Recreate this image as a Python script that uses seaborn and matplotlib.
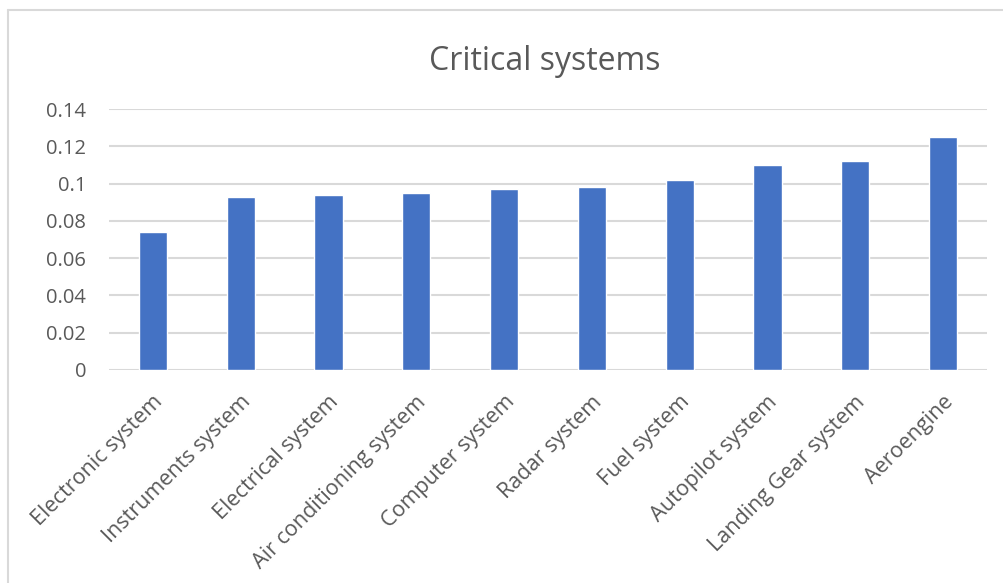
import numpy as np
import pandas as pd
import seaborn as sns
import matplotlib.pyplot as plt
import matplotlib.transforms as mtransforms
from matplotlib.lines import Line2D

# Datos
systems = ['Electronic system', 'Instruments system', 'Electrical system',
           'Air conditioning system', 'Computer system', 'Radar system',
           'Fuel system', 'Autopilot system', 'Landing Gear system', 'Aeroengine']
weights = [0.074, 0.093, 0.094, 0.095, 0.097, 0.098, 0.102, 0.110, 0.112, 0.125]
y_ticks = [0, 0.02, 0.04, 0.06, 0.08, 0.1, 0.12, 0.14]
y_labels = ['0', '0.02', '0.04', '0.06', '0.08', '0.1', '0.12', '0.14']

sns.set_style('white')
plt.rcParams['font.family'] = ['Open Sans', 'DejaVu Sans']

text_color = '#595959'
grid_color = '#d9d9d9'

df = pd.DataFrame({'system': systems, 'weight': weights})

fig = plt.figure(figsize=(10.04, 5.83), dpi=100)
ax = fig.add_axes([0.1086, 0.3654, 0.8745, 0.4476])

sns.barplot(data=df, x='system', y='weight', color='#4472C4', width=0.32,
            saturation=1, ax=ax, zorder=3)

ax.set_ylim(0, 0.14)
ax.set_xlim(-0.5, len(systems) - 0.5)
ax.set_yticks(y_ticks)
ax.set_yticklabels(y_labels)
ax.yaxis.grid(True, color=grid_color, linewidth=1.5, zorder=0)
ax.set_axisbelow(True)
for s in ax.spines.values():
    s.set_visible(False)
ax.tick_params(axis='both', length=0, colors=text_color)
ax.tick_params(axis='y', pad=16.5, labelsize=14.5)
ax.tick_params(axis='x', pad=0, labelsize=15.5)
ax.set_xlabel('')
ax.set_ylabel('')

# etiquetas del eje x giradas 45 grados, como en Excel
offset = mtransforms.ScaledTranslation(7 / 100, -29 / 100, fig.dpi_scale_trans)
for lbl in ax.get_xticklabels():
    lbl.set_rotation(45)
    lbl.set_ha('right')
    lbl.set_va('center')
    lbl.set_rotation_mode('anchor')
    lbl.set_transform(lbl.get_transform() + offset)

fig.text(545 / 1004, 1 - 70 / 583, 'Critical systems', fontsize=23,
         color=text_color, ha='center', va='baseline')

# borde del grafico (solo izquierda y arriba visibles)
fig.add_artist(Line2D([0.0075, 0.0075], [0, 0.983], transform=fig.transFigure,
                      color=grid_color, linewidth=1.5))
fig.add_artist(Line2D([0.0075, 1.0], [0.983, 0.983], transform=fig.transFigure,
                      color=grid_color, linewidth=1.5))

fig.savefig('out.png', dpi=100, facecolor='white')
